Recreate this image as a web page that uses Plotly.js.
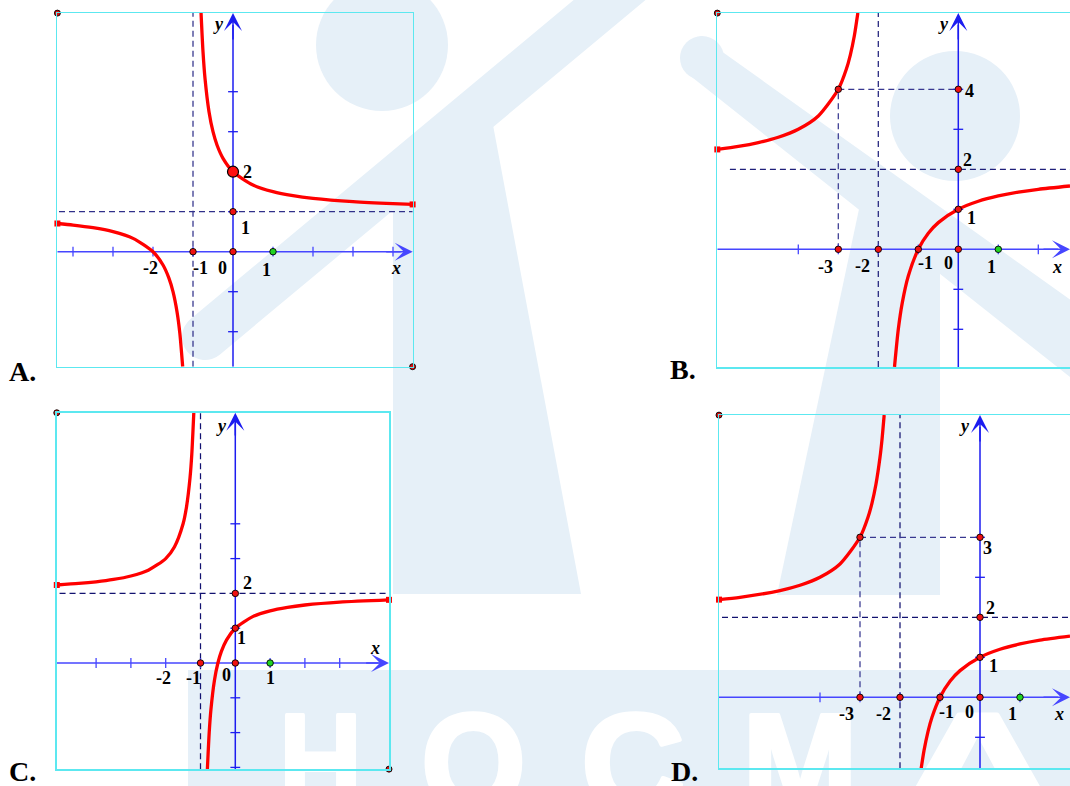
<!DOCTYPE html>
<html><head><meta charset="utf-8">
<script src="https://cdn.plot.ly/plotly-3.0.1.min.js"></script>
<style>
html,body{margin:0;padding:0;background:#fff;}
#wrap{position:relative;width:1070px;height:786px;overflow:hidden;}
#bg{position:absolute;left:0;top:0;}
#plot{position:absolute;left:0;top:0;width:1070px;height:786px;}
</style></head><body>
<div id="wrap">
<svg id="bg" width="1070" height="786" xmlns="http://www.w3.org/2000/svg">
  <g fill="#e6f0f8" stroke="none">
    <circle cx="382" cy="45" r="66"/>
    <circle cx="955" cy="116" r="65"/>
    <line x1="205" y1="337" x2="660" y2="-42" stroke="#e6f0f8" stroke-width="46" stroke-linecap="round"/>
    <polygon points="393,205 393,594 581,594 493,125"/>
    <circle cx="702" cy="58" r="22"/>
    <polygon points="700,36 1075,303 1075,381 688,74"/>
    <polygon points="862,195 940,252 940,595 777,595"/>
    <rect x="188" y="670" width="890" height="120"/>
  </g>
  <g fill="#ffffff" stroke="#ffffff" stroke-width="4" stroke-linejoin="round" font-family="Liberation Sans, Arial, sans-serif" font-weight="bold" font-size="140">
    <text x="279" y="811" textLength="83" lengthAdjust="spacingAndGlyphs">H</text>
    <text x="421" y="811" textLength="105" lengthAdjust="spacingAndGlyphs">O</text>
    <text x="581" y="811" textLength="104" lengthAdjust="spacingAndGlyphs">C</text>
    <text x="742" y="811" textLength="116" lengthAdjust="spacingAndGlyphs">M</text>
    <text x="900" y="811" textLength="156" lengthAdjust="spacingAndGlyphs">A</text>
    <text x="1090" y="811" textLength="40" lengthAdjust="spacingAndGlyphs">I</text>
  </g>
</svg>
<div id="plot"></div>
</div>
<script>
// ---------- Panel A : curve through (0,2), (-2,0); asymptotes x=-1, y=1 ----------
const A_leftX  = [-4.39,-4,-3.5,-3,-2.5,-2,-1.75,-1.6,-1.5,-1.4,-1.33,-1.258];
const A_leftY  = [0.705,0.667,0.6,0.5,0.333,0,-0.333,-0.667,-1,-1.5,-2.03,-2.876];
const A_rightX = [-0.799,-0.75,-0.7,-0.6,-0.5,-0.4,-0.25,0,0.5,1,1.5,2,3,4,4.49];
const A_rightY = [5.97,5,4.333,3.5,3,2.667,2.333,2,1.667,1.5,1.4,1.333,1.25,1.2,1.182];
const A_vAsym = -1, A_hAsym = 1;
const A_guideX = [], A_guideY = [];
const A_redX = [0,0,-1], A_redY = [1,0,0];
const A_bigX = [0], A_bigY = [2];
const A_greenX = [1], A_greenY = [0];
const A_cornerX = [-4.39,4.49], A_cornerY = [5.965,-2.875];
const A_capX = [-4.39,4.49], A_capY = [0.705,1.182];
const A_xTicks = [-4,-3,-2,-1,1,2,3,4], A_yTicks = [-2,-1,1,3,4];
const A_labels = [['2',0.35,2.0],['1',0.32,0.585],['-2',-2.075,-0.415],['-1',-0.825,-0.41],['0',-0.26,-0.41],['1',0.83,-0.46]];
const A_axisNames = [['x',4.075,-0.41],['y',-0.37,5.69]];

// ---------- Panel B : curve through (0,1), (-1,0), (-3,4); asymptotes x=-2, y=2 ----------
const B_leftX  = [-6.025,-5.5,-5,-4.5,-4,-3.5,-3,-2.8,-2.7,-2.6,-2.5115];
const B_leftY  = [2.497,2.571,2.667,2.8,3,3.333,4,4.5,4.857,5.333,5.91];
const B_rightX = [-1.595,-1.5,-1.4,-1.25,-1,-0.75,-0.5,0,0.5,1,1.5,2,2.7925];
const B_rightY = [-2.94,-2,-1.333,-0.667,0,0.4,0.667,1,1.2,1.333,1.429,1.5,1.583];
const B_vAsym = -2, B_hAsym = 2, B_hStart = -5.71;
const B_guideX = [-3,-3,null,-3,0], B_guideY = [0,4,null,4,4];
const B_redX = [-3,0,0,0,-1,-2,-3,0], B_redY = [4,4,2,1,0,0,0,0];
const B_greenX = [1], B_greenY = [0];
const B_cornerX = [-6.025], B_cornerY = [5.905];
const B_capX = [-6.025], B_capY = [2.497];
const B_xTicks = [-4,-3,-2,-1,1,2], B_yTicks = [-2,-1,1,3,4];
const B_labels = [['4',0.275,3.965],['2',0.235,2.23],['1',0.335,0.775],['-3',-3.33,-0.435],['-2',-2.4,-0.42],['-1',-0.83,-0.35],['0',-0.25,-0.35],['1',0.84,-0.435]];
const B_axisNames = [['x',2.475,-0.435],['y',-0.375,5.63]];

// ---------- Panel C : curve through (0,1); asymptotes x=-1, y=2 ----------
const C_leftX  = [-5.13,-4.5,-4,-3.5,-3,-2.5,-2,-1.75,-1.5,-1.4,-1.3,-1.25,-1.1926];
const C_leftY  = [2.242,2.286,2.333,2.4,2.5,2.667,3,3.333,4,4.5,5.333,6,7.19];
const C_rightX = [-0.8022,-0.75,-0.7,-0.6,-0.5,-0.4,-0.25,0,0.5,1,1.5,2,3,4.4167];
const C_rightY = [-3.055,-2,-1.333,-0.5,0,0.333,0.667,1,1.333,1.5,1.6,1.667,1.75,1.815];
const C_vAsym = -1, C_hAsym = 2;
const C_guideX = [], C_guideY = [];
const C_redX = [0,0,0,-1], C_redY = [2,1,0,0];
const C_greenX = [1], C_greenY = [0];
const C_cornerX = [-5.13,4.4167], C_cornerY = [7.19,-3.05];
const C_capX = [-5.13,4.4167], C_capY = [2.242,1.815];
const C_xTicks = [-4,-3,-2,-1,1,2,3], C_yTicks = [-3,-2,-1,1,3,4];
const C_labels = [['2',0.356,2.29],['1',0.172,0.71],['-2',-2.07,-0.44],['-1',-1.207,-0.44],['0',-0.247,-0.345],['1',1.0,-0.44]];
const C_axisNames = [['x',4.014,0.422],['y',-0.41,6.81]];

// ---------- Panel D : curve through (0,1), (-1,0), (-3,4) (labelled 3); asymptotes x=-2, y=2 ----------
const D_leftX  = [-6.525,-6,-5,-4.5,-4,-3.5,-3,-2.8,-2.7,-2.6,-2.5,-2.45,-2.3955];
const D_leftY  = [2.442,2.5,2.667,2.8,3,3.333,4,4.5,4.857,5.333,6,6.444,7.0575];
const D_rightX = [-1.4702,-1.4,-1.3,-1.2,-1,-0.75,-0.5,0,0.5,1,1.5,2.25];
const D_rightY = [-1.775,-1.333,-0.857,-0.5,0,0.4,0.667,1,1.2,1.333,1.429,1.529];
const D_vAsym = -2, D_hAsym = 2;
const D_guideX = [-3,-3,null,-3,0], D_guideY = [0,4,null,4,4];
const D_redX = [-3,0,0,0,-1,-2,-3,0], D_redY = [4,4,2,1,0,0,0,0];
const D_greenX = [1], D_greenY = [0];
const D_cornerX = [-6.525], D_cornerY = [7.055];
const D_capX = [-6.525], D_capY = [2.442];
const D_xTicks = [-4,-3,-2,-1,1], D_yTicks = [-1,1,3,4];
const D_labels = [['3',0.183,3.74],['2',0.25,2.225],['1',0.333,0.79],['-3',-3.333,-0.425],['-2',-2.417,-0.425],['-1',-0.833,-0.36],['0',-0.267,-0.36],['1',0.817,-0.425]];
const D_axisNames = [['x',1.983,-0.425],['y',-0.392,6.79]];

const panelLetters = ['A.','B.','C.','D.'];

// ---------- styling / layout ----------
const W = 1070, H = 786;
const RED = '#ff0000', BLUE_X = '#4646ff', BLUE_Y = '#1c1cf0', CYAN = '#5ce8f0';
const SERIF = 'Liberation Serif, Times New Roman, serif';

const panels = [
  {id:1, xpx:[57.3,412.7], ypx:[13,366.7], xr:[-4.3925,4.4925], yr:[-2.875,5.9675], closed:true, dash:'#30308a',
   L:[A_leftX,A_leftY], R:[A_rightX,A_rightY], v:A_vAsym, h:A_hAsym, hStart:-4.35, gx:A_guideX, gy:A_guideY,
   red:[A_redX,A_redY], big:[A_bigX,A_bigY], green:[A_greenX,A_greenY], corner:[A_cornerX,A_cornerY], cap:[A_capX,A_capY],
   xt:A_xTicks, yt:A_yTicks, labels:A_labels, names:A_axisNames, letter:[22,371]},
  {id:2, xpx:[717.3,1070], ypx:[13,367], xr:[-6.025,2.7925], yr:[-2.9425,5.9075], closed:false, dash:'#20207a',
   L:[B_leftX,B_leftY], R:[B_rightX,B_rightY], v:B_vAsym, h:B_hAsym, hStart:B_hStart, gx:B_guideX, gy:B_guideY,
   red:[B_redX,B_redY], big:null, green:[B_greenX,B_greenY], corner:[B_cornerX,B_cornerY], cap:[B_capX,B_capY],
   xt:B_xTicks, yt:B_yTicks, labels:B_labels, names:B_axisNames, letter:[683,370]},
  {id:3, xpx:[56.7,389], ypx:[412.7,769.3], xr:[-5.1322,4.4167], yr:[-3.0546,7.1925], closed:true, dash:'#121270',
   L:[C_leftX,C_leftY], R:[C_rightX,C_rightY], v:C_vAsym, h:C_hAsym, hStart:-5.05, gx:C_guideX, gy:C_guideY,
   red:[C_redX,C_redY], big:null, green:[C_greenX,C_greenY], corner:[C_cornerX,C_cornerY], cap:[C_capX,C_capY],
   xt:C_xTicks, yt:C_yTicks, labels:C_labels, names:C_axisNames, letter:[22,771]},
  {id:4, xpx:[719,1070], ypx:[415,768.3], xr:[-6.525,2.25], yr:[-1.775,7.0575], closed:false, dash:'#121270',
   L:[D_leftX,D_leftY], R:[D_rightX,D_rightY], v:D_vAsym, h:D_hAsym, hStart:-6.45, gx:D_guideX, gy:D_guideY,
   red:[D_redX,D_redY], big:null, green:[D_greenX,D_greenY], corner:[D_cornerX,D_cornerY], cap:[D_capX,D_capY],
   xt:D_xTicks, yt:D_yTicks, labels:D_labels, names:D_axisNames, letter:[684,771]}
];

const traces = [];
const annotations = [];
const layout = {
  width: W, height: H, margin:{l:0,r:0,t:0,b:0,pad:0},
  paper_bgcolor:'rgba(0,0,0,0)', plot_bgcolor:'rgba(0,0,0,0)',
  showlegend:false, hovermode:false
};

panels.forEach((p, i) => {
  const sfx = p.id === 1 ? '' : String(p.id);
  const xa = 'x' + sfx, ya = 'y' + sfx;
  layout['xaxis' + sfx] = {domain:[p.xpx[0]/W, p.xpx[1]/W], range:p.xr, anchor:ya,
    showgrid:false, zeroline:false, showticklabels:false, ticks:'', showline:true, mirror:true,
    linecolor:CYAN, linewidth:1.5, fixedrange:true};
  layout['yaxis' + sfx] = {domain:[1-p.ypx[1]/H, 1-p.ypx[0]/H], range:p.yr, anchor:xa,
    showgrid:false, zeroline:false, showticklabels:false, ticks:'', showline:true, mirror:p.closed,
    linecolor:CYAN, linewidth:1.5, fixedrange:true};
  const base = {type:'scatter', xaxis:xa, yaxis:ya, hoverinfo:'skip'};
  const xTip = p.xr[1], yTip = p.yr[1];
  // axis lines
  traces.push(Object.assign({}, base, {mode:'lines', x:[p.xr[0], xTip-0.3], y:[0,0], line:{color:BLUE_X, width:1.6}}));
  traces.push(Object.assign({}, base, {mode:'lines', x:[0,0], y:[p.yr[0], yTip-0.3], line:{color:BLUE_Y, width:1.5}}));
  // dashed asymptotes and guides
  traces.push(Object.assign({}, base, {mode:'lines', x:[p.v,p.v], y:[p.yr[0],p.yr[1]], line:{color:p.dash, width:1.25, dash:'6px,4px'}}));
  traces.push(Object.assign({}, base, {mode:'lines', x:[p.hStart,p.xr[1]], y:[p.h,p.h], line:{color:p.dash, width:1.25, dash:'6px,4px'}}));
  if (p.gx.length) traces.push(Object.assign({}, base, {mode:'lines', x:p.gx, y:p.gy, connectgaps:false, line:{color:'#383890', width:1.25, dash:'6px,4px'}}));
  // ticks
  traces.push(Object.assign({}, base, {mode:'markers', x:p.xt, y:p.xt.map(()=>0), cliponaxis:false,
    marker:{symbol:'line-ns', size:7, line:{width:1.3, color:BLUE_X}}}));
  traces.push(Object.assign({}, base, {mode:'markers', x:p.yt.map(()=>0), y:p.yt, cliponaxis:false,
    marker:{symbol:'line-ew', size:7, line:{width:1.3, color:BLUE_Y}}}));
  // curve branches
  [p.L, p.R].forEach(b => traces.push(Object.assign({}, base, {mode:'lines', x:b[0], y:b[1],
    line:{color:RED, width:3.3, shape:'spline', smoothing:0.7}})));
  // end caps
  traces.push(Object.assign({}, base, {mode:'markers', x:p.cap[0], y:p.cap[1], cliponaxis:false,
    marker:{symbol:'square', size:6, color:RED, line:{width:0}}}));
  // points
  traces.push(Object.assign({}, base, {mode:'markers', x:p.red[0], y:p.red[1], cliponaxis:false,
    marker:{size:6.5, color:'#ee1111', line:{width:0.9, color:'#000'}}}));
  traces.push(Object.assign({}, base, {mode:'markers', x:p.green[0], y:p.green[1], cliponaxis:false,
    marker:{size:6.5, color:'#22d322', line:{width:0.9, color:'#000'}}}));
  traces.push(Object.assign({}, base, {mode:'markers', x:p.corner[0], y:p.corner[1], cliponaxis:false,
    marker:{size:6, color:'#d81010', line:{width:0.9, color:'#000'}}}));
  if (p.big) traces.push(Object.assign({}, base, {mode:'markers', x:p.big[0], y:p.big[1], cliponaxis:false,
    marker:{size:11, color:'#ff1010', line:{width:1.2, color:'#000'}}}));
  // arrow heads
  const arr = {xref:xa, yref:ya, axref:xa, ayref:ya, showarrow:true, arrowhead:3, arrowsize:2, arrowwidth:1.5, text:'', standoff:0};
  annotations.push(Object.assign({}, arr, {x:xTip, y:0, ax:xTip-0.7, ay:0, arrowcolor:BLUE_X}));
  annotations.push(Object.assign({}, arr, {x:0, y:yTip, ax:0, ay:yTip-0.7, arrowcolor:BLUE_Y}));
  // number labels
  p.labels.forEach(l => annotations.push({xref:xa, yref:ya, x:l[1], y:l[2], text:'<b>'+l[0]+'</b>', showarrow:false,
    xanchor:'center', yanchor:'middle', font:{family:SERIF, size:18, color:'#000'}}));
  p.names.forEach(l => annotations.push({xref:xa, yref:ya, x:l[1], y:l[2], text:'<b><i>'+l[0]+'</i></b>', showarrow:false,
    xanchor:'center', yanchor:'middle', font:{family:SERIF, size:18, color:'#000'}}));
  // panel letter
  annotations.push({xref:'paper', yref:'paper', x:p.letter[0]/W, y:1-p.letter[1]/H, text:'<b>'+panelLetters[i]+'</b>',
    showarrow:false, xanchor:'center', yanchor:'middle', font:{family:SERIF, size:28, color:'#000'}});
});

layout.annotations = annotations;
Plotly.newPlot('plot', traces, layout, {staticPlot:true, displayModeBar:false});
</script>
</body></html>
